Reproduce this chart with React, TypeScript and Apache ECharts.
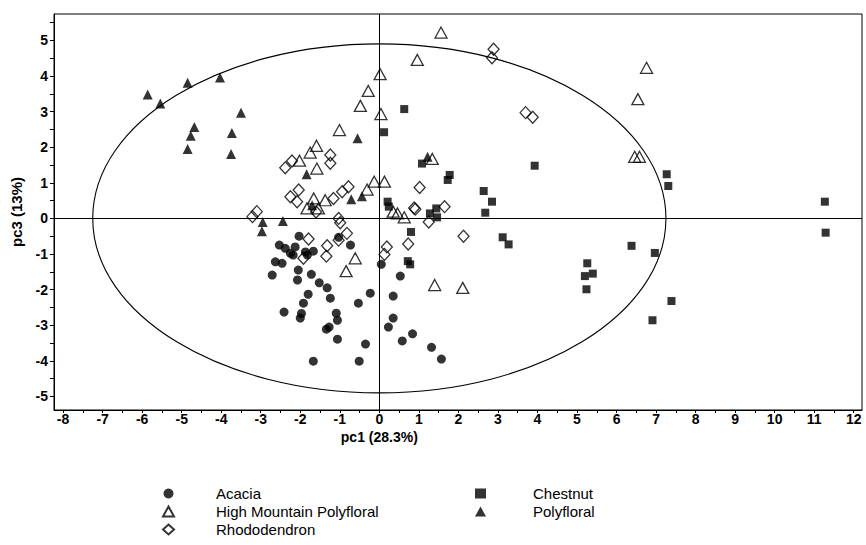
import React, { useEffect, useRef } from 'react';
import * as echarts from 'echarts';

const acacia: [number, number][] = [
  [-2.53, -0.75], [-2.38, -0.84], [-2.25, -0.98], [-2.18, -1.03], [-2.03, -0.5], [-2.13, -0.8],
  [-2.63, -1.22], [-2.46, -1.26], [-2.71, -1.59], [-2.05, -1.45], [-2.07, -1.73], [-1.72, -1.57],
  [-1.82, -1.03], [-1.67, -0.92], [-1.87, -0.94], [-1.52, -1.81], [-1.32, -1.95], [-1.8, -2.13],
  [-1.92, -2.38], [-1.24, -2.24], [-1.97, -2.67], [-2.0, -2.8], [-2.41, -2.63], [-1.09, -2.66],
  [-1.06, -2.86], [-1.27, -3.05], [-1.34, -3.11], [-1.06, -3.39], [-1.67, -4.01], [-0.51, -4.01],
  [-0.35, -3.53], [-0.53, -2.38], [-0.23, -2.1], [-0.73, -0.75], [0.05, -1.29], [0.53, -1.62],
  [0.35, -2.18], [0.35, -2.8], [0.23, -3.05], [0.84, -3.24], [0.58, -3.44], [1.32, -3.62],
  [1.57, -3.95], [-1.03, -0.53],
];

const highMountain: [number, number][] = [
  [1.56, 5.22], [0.96, 4.45], [0.02, 4.05], [-0.28, 3.58], [-0.48, 3.16], [0.04, 2.93],
  [-1.01, 2.48], [-1.59, 2.04], [-1.75, 1.85], [-2.02, 1.62], [-1.58, 1.4], [-0.13, 1.03],
  [0.13, 1.03], [-0.31, 0.81], [-1.37, 0.51], [-1.66, 0.56], [-1.83, 0.28], [-1.54, 0.28],
  [0.35, 0.19], [0.46, 0.14], [0.63, 0.03], [-0.61, -1.12], [-0.84, -1.48], [1.4, -1.87],
  [2.11, -1.95], [6.76, 4.23], [6.54, 3.35], [6.46, 1.73], [6.58, 1.73], [1.34, 1.67],
];

const rhododendron: [number, number][] = [
  [2.89, 4.75], [2.85, 4.51], [3.7, 2.97], [3.88, 2.84], [-1.24, 1.78], [-1.24, 1.55],
  [-2.38, 1.42], [-2.21, 1.61], [1.02, 0.87], [0.91, 0.26], [0.88, 0.29], [1.65, 0.33],
  [1.25, -0.1], [2.13, -0.5], [0.73, -0.72], [0.19, -0.8], [0.13, -1.01], [-2.25, 0.61],
  [-2.04, 0.8], [-2.08, 0.47], [-1.16, 0.56], [-0.94, 0.75], [-0.78, 0.89], [-1.6, 0.18],
  [-3.1, 0.19], [-3.21, 0.05], [-1.03, 0.0], [-0.99, -0.12], [-0.82, -0.42], [-1.79, -0.58],
  [-1.32, -0.77], [-1.34, -1.06], [-1.03, -0.61], [-1.92, -1.12],
];

const chestnut: [number, number][] = [
  [0.63, 3.07], [0.12, 2.42], [1.08, 1.54], [1.78, 1.22], [1.73, 1.08], [3.93, 1.48],
  [2.64, 0.77], [2.85, 0.47], [2.68, 0.16], [0.21, 0.47], [0.24, 0.33], [1.28, 0.14],
  [1.44, 0.28], [1.46, 0.03], [0.8, -0.38], [3.12, -0.53], [3.27, -0.73], [0.72, -1.2],
  [0.78, -1.29], [7.27, 1.24], [7.31, 0.91], [11.27, 0.47], [11.29, -0.4], [6.38, -0.77],
  [6.97, -0.97], [5.26, -1.26], [5.4, -1.55], [5.2, -1.62], [5.24, -1.99], [7.39, -2.32],
  [6.91, -2.86],
];

const polyfloral: [number, number][] = [
  [-5.86, 3.48], [-5.54, 3.23], [-4.85, 3.81], [-4.03, 3.96], [-3.5, 2.97], [-4.68, 2.57],
  [-4.77, 2.32], [-4.85, 1.95], [-3.73, 2.4], [-3.75, 1.81], [-0.55, 2.25], [-1.84, 1.24],
  [-0.71, 0.54], [-0.44, 0.62], [1.22, 1.73], [-1.7, 0.37], [-2.95, -0.1], [-2.97, -0.36],
  [-2.44, -0.07],
];

const xTickLabels = [-8, -7, -6, -5, -4, -3, -2, -1, 0, 1, 2, 3, 4, 5, 6, 7, 8, 9, 10, 11, 12];
const yTickLabels = [-5, -4, -3, -2, -1, 0, 1, 2, 3, 4, 5];
const X_RANGE = [-8.23, 12.21];
const Y_RANGE = [-5.38, 5.74];
const ELLIPSE_RX = 7.25;
const ELLIPSE_RY = 4.9;
const X_NAME = 'pc1 (28.3%)';
const Y_NAME = 'pc3 (13%)';

const xTicks = xTickLabels.flatMap((v, i) => (i < xTickLabels.length - 1 ? [v, v + 0.5] : [v]));
const yTicks = [-5.5, ...yTickLabels.flatMap((v) => [v, v + 0.5])];

const FONT = 'Arimo, "Liberation Sans", Arial, sans-serif';
const openStyle = { color: 'rgba(255,255,255,0)', borderColor: '#000', borderWidth: 1.3 };
const filledStyle = { color: '#000', borderColor: '#000', borderWidth: 0 };

export default function App() {
  const ref = useRef<HTMLDivElement>(null);
  useEffect(() => {
    if (!ref.current) return;
    const chart = echarts.init(ref.current, undefined, { renderer: 'svg' });
    const legendText = { fontFamily: FONT, fontSize: 15, color: '#000', lineHeight: 14 };
    const labelFont = { fontFamily: FONT, fontSize: 14, fontWeight: 'bold', color: '#000' };
    chart.setOption({
      animation: false,
      backgroundColor: '#fff',
      grid: {
        left: 54, top: 14, width: 808, height: 396,
        show: true, borderColor: '#000', borderWidth: 1, backgroundColor: 'transparent',
      },
      xAxis: {
        type: 'value', min: X_RANGE[0], max: X_RANGE[1],
        axisLine: { onZero: false, lineStyle: { color: '#000', width: 1 } },
        axisTick: { customValues: xTicks, length: 3, lineStyle: { color: '#000' } },
        axisLabel: { customValues: xTickLabels, margin: 2, ...labelFont },
        splitLine: { show: false },
      },
      yAxis: {
        type: 'value', min: Y_RANGE[0], max: Y_RANGE[1],
        name: Y_NAME, nameLocation: 'middle', nameGap: 30, nameRotate: 90,
        nameTextStyle: { ...labelFont, fontSize: 15 },
        axisLine: { onZero: false, lineStyle: { color: '#000', width: 1 } },
        axisTick: { customValues: yTicks, length: 4, lineStyle: { color: '#000' } },
        axisLabel: { customValues: yTickLabels, margin: 6, ...labelFont },
        splitLine: { show: false },
      },
      legend: [
        {
          data: ['Acacia', 'High Mountain Polyfloral', 'Rhododendron'],
          orient: 'vertical', left: 162, top: 486, padding: 0,
          itemWidth: 11, itemHeight: 10, itemGap: 3,
          textStyle: { ...legendText, padding: [0, 0, 0, 37] },
        },
        {
          data: ['Chestnut', 'Polyfloral'],
          orient: 'vertical', left: 475, top: 486, padding: 0,
          itemWidth: 11, itemHeight: 10, itemGap: 3,
          textStyle: { ...legendText, padding: [0, 0, 0, 42] },
        },
      ],
      series: [
        {
          name: 'Acacia', type: 'scatter', data: acacia, symbol: 'circle', symbolSize: 9,
          itemStyle: filledStyle, z: 3,
          markLine: {
            silent: true, symbol: 'none', label: { show: false },
            lineStyle: { color: '#000', type: 'solid', width: 1 },
            data: [{ xAxis: 0 }, { yAxis: 0 }],
          },
        },
        {
          name: 'High Mountain Polyfloral', type: 'scatter', data: highMountain,
          symbol: 'triangle', symbolSize: [12, 11], itemStyle: openStyle, z: 3,
        },
        {
          name: 'Rhododendron', type: 'scatter', data: rhododendron,
          symbol: 'diamond', symbolSize: [11, 12], itemStyle: openStyle, z: 3,
        },
        {
          name: 'Chestnut', type: 'scatter', data: chestnut, symbol: 'rect', symbolSize: 8,
          itemStyle: filledStyle, z: 3,
        },
        {
          name: 'Polyfloral', type: 'scatter', data: polyfloral, symbol: 'triangle',
          symbolSize: [10, 10], itemStyle: filledStyle, z: 3,
        },
      ],
    });
    const c = chart.convertToPixel({ xAxisIndex: 0, yAxisIndex: 0 }, [0, 0]) as number[];
    const e = chart.convertToPixel({ xAxisIndex: 0, yAxisIndex: 0 }, [ELLIPSE_RX, ELLIPSE_RY]) as number[];
    chart.setOption({
      graphic: [
        {
          type: 'ellipse', silent: true, z: 1,
          shape: { cx: c[0], cy: c[1], rx: Math.abs(e[0] - c[0]), ry: Math.abs(c[1] - e[1]) },
          style: { fill: 'none', stroke: '#000', lineWidth: 1.1 },
        },
        {
          type: 'text', silent: true, x: c[0], y: 437,
          style: {
            text: X_NAME, align: 'center', verticalAlign: 'middle',
            font: `bold 14px ${FONT}`, fill: '#000',
          },
        },
      ],
    });
    return () => chart.dispose();
  }, []);
  return (
    <div
      ref={ref}
      style={{ position: 'fixed', left: 0, top: 0, width: 866, height: 545, background: '#fff' }}
    />
  );
}
